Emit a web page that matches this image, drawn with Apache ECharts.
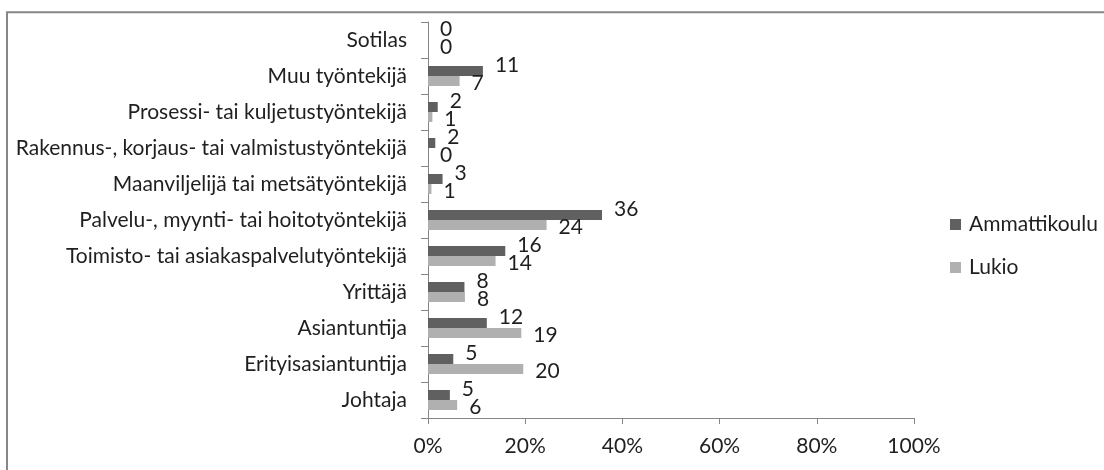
<!DOCTYPE html>
<html>
<head>
<meta charset="utf-8">
<script src="https://cdn.jsdelivr.net/npm/echarts@6/dist/echarts.min.js"></script>
<style>
html,body{margin:0;padding:0;background:#fff;}
#chart{width:1104px;height:470px;}
</style>
</head>
<body>
<div id="chart"></div>
<script>
var categories = ["Johtaja","Erityisasiantuntija","Asiantuntija","Yrittäjä","Toimisto- tai asiakaspalvelutyöntekijä","Palvelu-, myynti- tai hoitotyöntekijä","Maanviljelijä tai metsätyöntekijä","Rakennus-, korjaus- tai valmistustyöntekijä","Prosessi- tai kuljetustyöntekijä","Muu työntekijä","Sotilas"];
var ammattikoulu = [4.5, 5.2, 12.1, 7.5, 15.9, 35.8, 3.0, 1.5, 2.0, 11.3, 0];
var lukio = [6.0, 19.6, 19.2, 7.6, 13.9, 24.4, 0.7, 0, 0.9, 6.5, 0];
var xTicks = {min: 0, max: 100, interval: 20};

var FONT = 'Lato';
var FS = 21;
var TXT = '#1f1f1f';
var chart = echarts.init(document.getElementById('chart'));
chart.setOption({
  animation: false,
  backgroundColor: '#fff',
  graphic: [{
    type: 'rect', shape: {x: 7, y: 12.3, width: 1120, height: 500},
    style: {fill: 'none', stroke: '#878787', lineWidth: 2}, silent: true, z: 100
  }],
  grid: {left: 428, right: 190, top: 22, bottom: 52, containLabel: false},
  legend: {
    orient: 'vertical', left: 945, top: 209,
    itemWidth: 11, itemHeight: 11, itemGap: 22,
    icon: 'rect',
    textStyle: {fontFamily: FONT, fontSize: FS, color: TXT, padding: [0,0,0,3]},
    data: ['Ammattikoulu', 'Lukio']
  },
  xAxis: {
    type: 'value', min: xTicks.min, max: xTicks.max, interval: xTicks.interval,
    axisLine: {show: true, lineStyle: {color: '#868686', width: 1}},
    axisTick: {show: true, length: 6, lineStyle: {color: '#868686'}},
    splitLine: {show: false},
    axisLabel: {formatter: '{value}%', fontFamily: FONT, fontSize: FS, color: TXT, margin: 18}
  },
  yAxis: {
    type: 'category', data: categories,
    axisLine: {show: true, lineStyle: {color: '#868686', width: 1}},
    axisTick: {show: true, length: 7, lineStyle: {color: '#868686'}},
    axisLabel: {fontFamily: FONT, fontSize: FS, color: TXT, margin: 21}
  },
  series: [{
    name: 'Ammattikoulu', type: 'bar', data: ammattikoulu,
    barWidth: 10, barGap: '0%',
    itemStyle: {color: '#606060'},
    label: {show: true, position: 'right', distance: 12, offset: [0, -6],
      fontFamily: FONT, fontSize: FS, color: TXT,
      formatter: function (p) { return Math.round(p.value); }}
  }, {
    name: 'Lukio', type: 'bar', data: lukio,
    barWidth: 10, barGap: '0%',
    itemStyle: {color: '#b0b0b0'},
    label: {show: true, position: 'right', distance: 12, offset: [0, 2],
      fontFamily: FONT, fontSize: FS, color: TXT,
      formatter: function (p) { return Math.round(p.value); }}
  }]
});
</script>
</body>
</html>
